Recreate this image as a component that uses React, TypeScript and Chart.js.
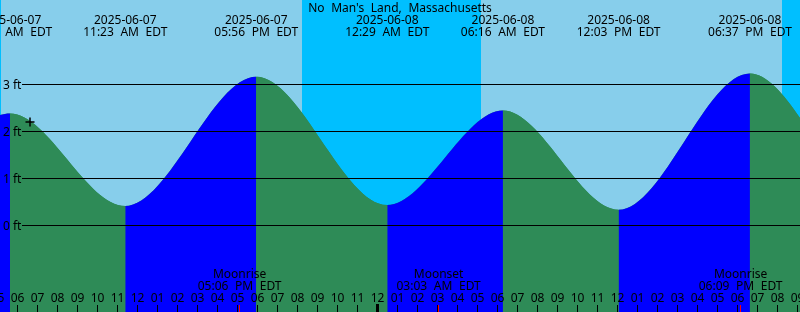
import React, { useEffect, useRef } from 'react';
import { Chart, registerables } from 'chart.js';

Chart.register(...registerables);

// ---------- data (hours are counted from 2025-06-07 00:00 EDT) ----------
const TITLE = "No Man's Land, Massachusetts";

const TIDE_HOURS = [-6.9, -0.67, 5.62, 11.383, 17.933, 24.483, 30.267, 36.05, 42.617, 49.0, 55.0];
const TIDE_FEET = [3.1, 0.40, 2.38, 0.41, 3.16, 0.43, 2.44, 0.33, 3.23, 0.45, 2.5];
const TIDE_DATES = ['2025-06-06', '2025-06-06', '2025-06-07', '2025-06-07', '2025-06-07', '2025-06-08', '2025-06-08', '2025-06-08', '2025-06-08', '2025-06-09', '2025-06-09'];
const TIDE_TIMES = ['05:06 PM EDT', '11:20 PM EDT', '05:37 AM EDT', '11:23 AM EDT', '05:56 PM EDT', '12:29 AM EDT', '06:16 AM EDT', '12:03 PM EDT', '06:37 PM EDT', '01:00 AM EDT', '07:00 AM EDT'];

const LEVEL_VALUES = [0, 1, 2, 3];
const LEVEL_LABELS = ['0 ft', '1 ft', '2 ft', '3 ft'];

const SUNRISE_HOURS = [5.17, 29.17];
const SUNSET_HOURS = [20.22, 44.22];

const MOON_EVENTS = ['Moonrise', 'Moonset', 'Moonrise'];
const MOON_HOURS = [17.1, 27.05, 42.15];
const MOON_TIMES = ['05:06 PM EDT', '03:03 AM EDT', '06:09 PM EDT'];

const HOUR_START = 5;
const HOUR_LABELS = ['05', '06', '07', '08', '09', '10', '11', '12', '01', '02', '03', '04', '05', '06', '07', '08', '09', '10', '11', '12', '01', '02', '03', '04', '05', '06', '07', '08', '09', '10', '11', '12', '01', '02', '03', '04', '05', '06', '07', '08', '09'];
const MIDNIGHT_HOURS = [24];

const NOW_HOUR = [6.62];
const NOW_FEET = [2.2];

const X_MIN = 5.12;
const X_MAX = 45.12;
const Y_MIN = -1.845;
const Y_MAX = 4.793;

// ---------- styles ----------
const DAY = '#87CEEB';
const NIGHT = '#00BFFF';
const RISING = '#0000FF';
const FALLING = '#2E8B57';
const FONT = '12px "Noto Sans"';

const overlay = {
  id: 'tideOverlay',
  beforeDraw(chart: any) {
    const { ctx, chartArea: a } = chart;
    const xs = chart.scales.x;
    ctx.save();
    ctx.fillStyle = DAY;
    ctx.fillRect(0, 0, chart.width, chart.height);
    ctx.fillStyle = NIGHT;
    const starts = [X_MIN - 10, ...SUNSET_HOURS];
    const ends = [...SUNRISE_HOURS, X_MAX + 10];
    for (let i = 0; i < starts.length; i++) {
      const x0 = Math.max(a.left, xs.getPixelForValue(starts[i]));
      const x1 = Math.min(a.right, xs.getPixelForValue(ends[i]));
      if (x1 > x0) ctx.fillRect(Math.round(x0), a.top, Math.round(x1) - Math.round(x0), a.bottom - a.top);
    }
    ctx.restore();
  },
  afterDatasetDraw(chart: any, args: any) {
    if (args.index !== 0) return;
    const { ctx, chartArea: a } = chart;
    const xs = chart.scales.x;
    const ys = chart.scales.y;
    ctx.save();
    // level lines
    ctx.strokeStyle = '#000';
    ctx.lineWidth = 1;
    ctx.fillStyle = '#000';
    ctx.font = FONT;
    ctx.textAlign = 'left';
    ctx.textBaseline = 'alphabetic';
    (ctx as any).wordSpacing = '0px';
    LEVEL_VALUES.forEach((v, i) => {
      const y = Math.floor(ys.getPixelForValue(v)) + 0.5;
      ctx.beginPath();
      ctx.moveTo(22, y);
      ctx.lineTo(a.right, y);
      ctx.stroke();
      ctx.fillText(LEVEL_LABELS[i], 3, y + 4);
    });

    (ctx as any).wordSpacing = '3.5px';
    ctx.textAlign = 'center';
    // title
    ctx.fillText(TITLE, (a.left + a.right) / 2, 12);
    // tide extreme labels
    TIDE_HOURS.forEach((h, i) => {
      const x = xs.getPixelForValue(h);
      ctx.fillText(TIDE_DATES[i], x, 24);
      ctx.fillText(TIDE_TIMES[i], x, 36);
    });
    // moon labels
    MOON_HOURS.forEach((h, i) => {
      const x = xs.getPixelForValue(h);
      ctx.fillText(MOON_EVENTS[i], x, 278);
      ctx.fillText(MOON_TIMES[i], x, 290);
    });
    // hour labels and ticks
    HOUR_LABELS.forEach((lab, i) => {
      const x = xs.getPixelForValue(HOUR_START + i);
      ctx.fillText(lab, x, 302);
      ctx.fillRect(Math.floor(x), 305, 1, 7);
    });
    MIDNIGHT_HOURS.forEach((h) => {
      const x = xs.getPixelForValue(h);
      ctx.fillRect(Math.floor(x) - 1, 304, 3, 8);
    });
    ctx.fillStyle = '#FF0000';
    MOON_HOURS.forEach((h) => {
      const x = xs.getPixelForValue(h);
      ctx.fillRect(Math.floor(x), 305, 1, 7);
    });
    ctx.restore();
  },
};

export default function App() {
  const ref = useRef<HTMLCanvasElement | null>(null);
  useEffect(() => {
    if (!ref.current) return;
    const tidePoints = TIDE_HOURS.map((h, i) => ({ x: h, y: TIDE_FEET[i] }));
    const chart = new Chart(ref.current, {
      type: 'line',
      data: {
        datasets: [
          {
            // rising / falling coloured water
            data: tidePoints,
            fill: 'start',
            backgroundColor: FALLING,
            borderColor: 'rgba(0,0,0,0)',
            borderWidth: 0,
            pointRadius: 0,
            cubicInterpolationMode: 'monotone',
            capBezierPoints: false,
            order: 0,
            segment: {
              backgroundColor: (c: any) => (c.p1.parsed.y >= c.p0.parsed.y ? RISING : FALLING),
            },
          } as any,
          {
            // "now" marker
            data: NOW_HOUR.map((h, i) => ({ x: h, y: NOW_FEET[i] })),
            showLine: false,
            pointStyle: 'cross',
            pointRadius: 4.5,
            pointBorderWidth: 1.5,
            pointBorderColor: '#000',
            borderColor: '#000',
            order: -1,
          } as any,
          {
            // underlay of the same curve, hides seams between segments
            data: tidePoints,
            fill: 'start',
            backgroundColor: FALLING,
            borderColor: 'rgba(0,0,0,0)',
            borderWidth: 0,
            pointRadius: 0,
            cubicInterpolationMode: 'monotone',
            capBezierPoints: false,
            order: 1,
          } as any,
        ],
      },
      options: {
        responsive: false,
        animation: false,
        devicePixelRatio: 1,
        events: [],
        layout: { padding: 0, autoPadding: false },
        elements: { line: { capBezierPoints: false } },
        scales: {
          x: { type: 'linear', min: X_MIN, max: X_MAX, display: false },
          y: { type: 'linear', min: Y_MIN, max: Y_MAX, display: false },
        },
        plugins: {
          legend: { display: false },
          tooltip: { enabled: false },
        },
      },
      plugins: [overlay],
    });
    return () => chart.destroy();
  }, []);
  return (
    <div style={{ position: 'absolute', left: 0, top: 0, width: 800, height: 312 }}>
      <canvas ref={ref} width={800} height={312} style={{ display: 'block', width: 800, height: 312 }} />
    </div>
  );
}
